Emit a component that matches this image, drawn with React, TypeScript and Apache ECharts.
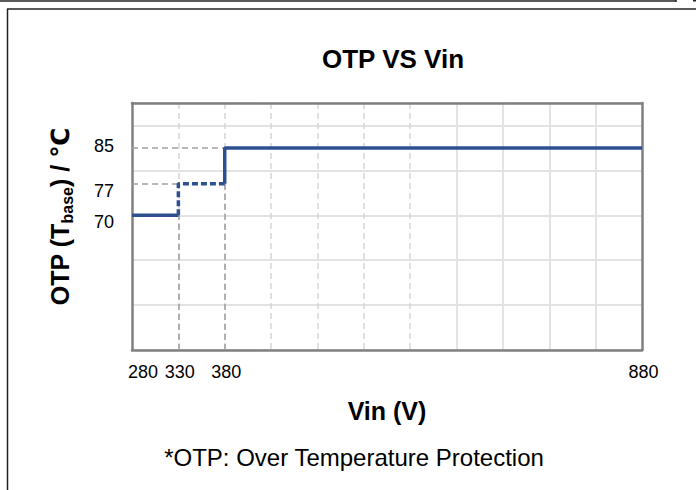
import React, { useEffect, useRef } from "react";
import * as echarts from "echarts";

// ---- data ----
const xTickLabels = ["280", "330", "380", "", "", "", "", "", "", "", "", "880"];
const vinSteps = ["280", "330", "380", "880"];
const otpSteps = [70, 77, 85, 85];
const yTickLabels = [70, 77, 85];
const yMin = 40;
const yMax = 95;
const yInterval = 10;

const FONT = "'Liberation Sans', Arial, 'DejaVu Sans', sans-serif";
const BLUE = "#2e5090";
const BORDER = "#808080";

export default function App() {
  const ref = useRef<HTMLDivElement>(null);

  useEffect(() => {
    if (!ref.current) return;
    const chart = echarts.init(ref.current, undefined, { renderer: "svg" });

    const [v0, v1, v2, v3] = vinSteps;
    const [o0, o1, o2, o3] = otpSteps;
    const low = [[v0, o0], [v1, o0]];
    const mid = [[v1, o0], [v1, o1], [v2, o1]];
    const high = [[v2, o1], [v2, o2], [v3, o3]];

    const refLines = [
      [{ coord: [v0, o2] }, { coord: [v2, o2] }],
      [{ coord: [v0, o1] }, { coord: [v1, o1] }],
      [{ coord: [v1, yMin] }, { coord: [v1, o0] }],
      [{ coord: [v2, yMin] }, { coord: [v2, o1] }],
    ];

    const option: any = {
      animation: false,
      textStyle: { fontFamily: FONT },
      title: {
        text: "OTP VS Vin",
        left: 388,
        top: 41,
        textAlign: "center",
        textStyle: { fontSize: 26, fontWeight: "bold", color: "#000", fontFamily: FONT },
      },
      grid: { left: 132, right: 54, top: 103, bottom: 140, show: false },
      xAxis: [
        {
          type: "category",
          data: xTickLabels,
          boundaryGap: false,
          position: "bottom",
          z: 3,
          axisLine: { show: true, lineStyle: { color: BORDER, width: 2.5 } },
          axisTick: { show: false },
          axisLabel: {
            interval: 0,
            fontSize: 18,
            color: "#000",
            margin: 13,
            fontFamily: FONT,
            formatter: (v: string, i: number) => (i === 0 ? `{first|${v}}` : `{n|${v}}`),
            rich: {
              first: { fontSize: 18, color: "#000", fontFamily: FONT, padding: [0, 0, 0, 22] },
              n: { fontSize: 18, color: "#000", fontFamily: FONT, padding: [0, 0, 0, 3] },
            },
          },
          splitLine: {
            show: true,
            interval: (i: number) => i >= 1 && i <= 6,
            lineStyle: { color: "#d6d6d6", width: 1.5, type: [6, 4] },
          },
          name: "Vin (V)",
          nameLocation: "middle",
          nameGap: 48,
          nameTextStyle: { fontSize: 25, fontWeight: "bold", color: "#000", fontFamily: FONT },
        },
        {
          type: "category",
          data: xTickLabels,
          boundaryGap: false,
          position: "top",
          z: 3,
          axisLine: { show: true, lineStyle: { color: BORDER, width: 2.5 } },
          axisTick: { show: false },
          axisLabel: { show: false },
          splitLine: {
            show: true,
            interval: (i: number) => i >= 7 && i <= 10,
            lineStyle: { color: "#e3e3e3", width: 2 },
          },
        },
      ],
      yAxis: [
        {
          type: "value",
          min: yMin,
          max: yMax,
          interval: yInterval,
          position: "left",
          z: 3,
          axisLine: { show: true, lineStyle: { color: BORDER, width: 2.5 } },
          axisTick: { show: false },
          axisLabel: {
            customValues: yTickLabels,
            margin: 18,
            fontSize: 18,
            color: "#000",
            fontFamily: FONT,
            formatter: (v: number) => (v === 85 ? `{a|${v}}` : `{b|${v}}`),
            rich: {
              a: { fontSize: 18, color: "#000", fontFamily: FONT, padding: [0, 0, 4, 0] },
              b: { fontSize: 18, color: "#000", fontFamily: FONT, padding: [14, 0, 0, 0] },
            },
          },
          splitLine: { show: true, lineStyle: { color: "#e3e3e3", width: 2 } },
          name: "OTP (T{sub|base}) / ℃",
          nameLocation: "middle",
          nameGap: 57,
          nameTextStyle: {
            fontSize: 25,
            fontWeight: "bold",
            color: "#000",
            fontFamily: FONT,
            lineHeight: 30,
            padding: [0, 0, 0, 20],
            rich: {
              sub: {
                fontSize: 16,
                fontWeight: "bold",
                color: "#000",
                fontFamily: FONT,
                lineHeight: 16,
                verticalAlign: "bottom",
              },
            },
          },
        },
        {
          type: "value",
          min: yMin,
          max: yMax,
          interval: yInterval,
          position: "right",
          z: 3,
          axisLine: { show: true, lineStyle: { color: BORDER, width: 2.5 } },
          axisTick: { show: false },
          axisLabel: { show: false },
          splitLine: { show: false },
        },
      ],
      graphic: [
        {
          type: "text",
          x: 354,
          y: 457,
          style: {
            text: "*OTP: Over Temperature Protection",
            fontSize: 24,
            fontFamily: FONT,
            fill: "#000",
            align: "center",
            verticalAlign: "middle",
          },
        },
        { type: "line", shape: { x1: 0, y1: 1, x2: 676, y2: 1 }, style: { stroke: "#222", lineWidth: 1.5 } },
        { type: "line", shape: { x1: 676, y1: 0, x2: 676, y2: 2 }, style: { stroke: "#222", lineWidth: 1.5 } },
        { type: "line", shape: { x1: 693, y1: 0, x2: 696, y2: 0 }, style: { stroke: "#222", lineWidth: 3 } },
        { type: "line", shape: { x1: 7, y1: 9, x2: 696, y2: 9 }, style: { stroke: "#222", lineWidth: 1.5 } },
        { type: "line", shape: { x1: 7.5, y1: 9, x2: 7.5, y2: 490 }, style: { stroke: "#222", lineWidth: 1.5 } },
      ],
      series: [
        {
          type: "line",
          name: "ref",
          data: [],
          z: 4,
          silent: true,
          markLine: {
            silent: true,
            symbol: ["none", "none"],
            label: { show: false },
            lineStyle: { color: "#a0a0a0", width: 1.5, type: [6, 4] },
            data: refLines,
          },
        },
        {
          type: "line",
          name: "OTP",
          data: low,
          symbol: "none",
          z: 5,
          lineStyle: { color: BLUE, width: 3.5 },
        },
        {
          type: "line",
          name: "OTP hysteresis",
          data: mid,
          symbol: "none",
          z: 5,
          lineStyle: { color: BLUE, width: 3.5, type: [6, 3] },
        },
        {
          type: "line",
          name: "OTP high",
          data: high,
          symbol: "none",
          z: 5,
          lineStyle: { color: BLUE, width: 3.5 },
        },
      ],
    };

    chart.setOption(option);
    return () => chart.dispose();
  }, []);

  return (
    <div
      ref={ref}
      style={{ position: "fixed", left: 0, top: 0, width: 696, height: 490, background: "#fff" }}
    />
  );
}
